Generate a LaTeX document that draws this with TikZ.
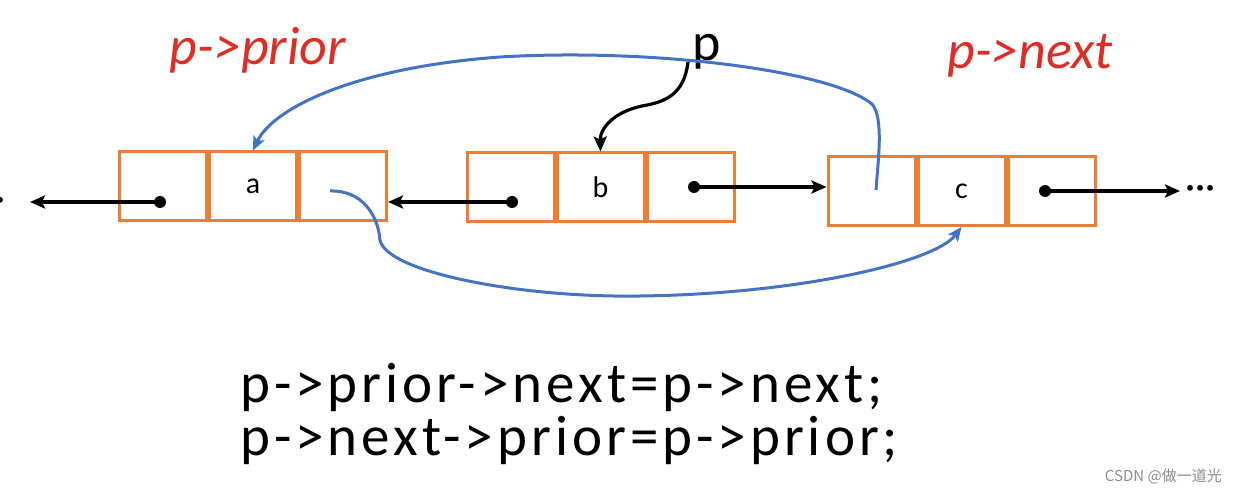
\documentclass[tikz,border=0pt]{standalone}
\usepackage{fontspec}
\setmainfont{Carlito}
\newfontfamily\cjk{Noto Sans CJK SC}
\usetikzlibrary{positioning,arrows.meta}
\definecolor{boxorange}{RGB}{237,125,49}
\definecolor{linkblue}{RGB}{68,114,196}
\definecolor{penred}{RGB}{222,45,38}
\tikzset{
  cell/.style={draw=boxorange, line width=3pt, minimum width=87pt, minimum height=69pt, inner sep=0pt, font=\fontsize{30}{30}\selectfont},
  ptr/.style={line width=3.2pt, -{Stealth[length=15pt,width=13pt,inset=3pt]}},
  link/.style={draw=linkblue, line width=3pt, -{Stealth[length=14pt,width=12pt,inset=3pt]}},
  dotnode/.style={circle, fill, inner sep=0pt, minimum size=12pt},
  more/.style={inner sep=0pt, font=\fontsize{40}{40}\selectfont},
  pen/.style={text=penred, font=\fontsize{54}{54}\selectfont\itshape},
}

\begin{document}
\begin{tikzpicture}[x=1pt,y=-1pt]
\useasboundingbox (0,0) rectangle (1237,494);
\node [cell] (a2) at (253,186.5) {a};
\node [cell, left=0pt of a2] (a1) {};
\node [cell, right=0pt of a2] (a3) {};
\node [cell] (b2) at (600.5,187.5) {b};
\node [cell, left=0pt of b2] (b1) {};
\node [cell, right=0pt of b2] (b3) {};
\node [cell] (c2) at (961.5,191) {c};
\node [cell, left=0pt of c2] (c1) {};
\node [cell, right=0pt of c2] (c3) {};
\node [dotnode] (da) at (160,202) {};
\node [dotnode] (db) at (512,202) {};
\node [dotnode] (dbn) at (694,187) {};
\node [dotnode] (dcn) at (1045,191) {};
\coordinate (lend) at (30,202);
\coordinate (rend) at (1180,191);
\node [more, anchor=east] (lmore) at (6,204) {···};
\node [more, anchor=west] (rmore) at (1185,192) {···};
\draw [ptr] (da.center) -- (lend);
\draw [ptr] (db.center) -- (db -| a3.east);
\draw [ptr] (dbn.center) -- (dbn -| c1.west);
\draw [ptr] (dcn.center) -- (rend);
\node [font=\fontsize{54}{54}\selectfont] (p) at (707,52) {p};
\coordinate (ps) at (688,62);
\draw [ptr] (ps) .. controls (684,95) and (665,102) .. (642,106) .. controls (614,112) and (600,128) .. (b2.north);
\coordinate (la) at (330,191);
\coordinate (lc) at (876,190);
\draw [link] (lc) .. controls (878,160) and (884,118) .. (872,104) .. controls (830,70) and (650,48) .. (500,57) .. controls (350,68) and (272,110) .. (a2.north);
\draw [link] (la) .. controls (362,190) and (378,215) .. (380,240) .. controls (386,272) and (520,298) .. (640,296) .. controls (800,294) and (935,262) .. (c2.south);
\node [pen] (prior) at (258,50) {p->prior};
\node [pen] (next) at (1030,56) {p->next};
\node [anchor=base west, inner sep=0pt, align=left, font=\fontsize{57}{53}\selectfont\addfontfeature{LetterSpace=7}] (code) at (240,455) {p->prior->next=p->next;\\p->next->prior=p->prior;};
\node [anchor=base east, inner sep=0pt, text=black!45, font=\cjk\fontsize{15}{15}\selectfont] (mark) at (1222,481) {CSDN @做一道光};
\end{tikzpicture}
\end{document}
